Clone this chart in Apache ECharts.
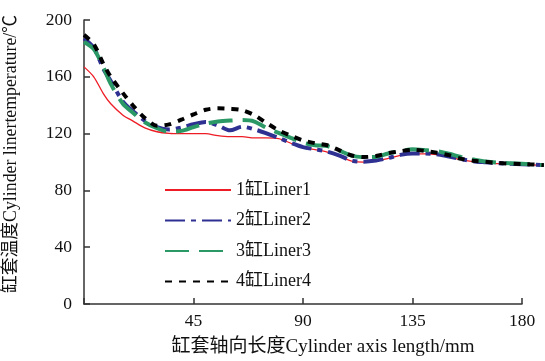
<!DOCTYPE html>
<html>
<head>
<meta charset="utf-8">
<script src="https://cdn.jsdelivr.net/npm/echarts@6/dist/echarts.min.js"></script>
<style>html,body{margin:0;padding:0;background:#fff}#c{width:545px;height:361px}</style>
</head>
<body>
<div id="c"></div>
<script>
const xPositions = [0, 4, 8, 11, 16, 20, 25, 30, 35, 40, 45, 50, 55, 60, 65, 70, 75, 80, 85, 90, 95, 100, 105, 110, 115, 120, 125, 130, 135, 140, 145, 150, 155, 160, 165, 170, 180, 189];
const liner1 = [167, 160, 148, 141, 133, 129, 124, 121.3, 120.2, 120, 120, 120, 118.5, 117.8, 117.8, 117, 117, 116.5, 113.2, 110.2, 108.7, 107, 104.2, 100.7, 99.9, 100.7, 102.5, 104.7, 105.7, 105.7, 105.2, 103.5, 101.7, 100.3, 99.5, 98.8, 98.2, 97.6];
const liner2 = [187, 180.5, 165.5, 157, 142.5, 136, 129, 124.5, 122.8, 124.3, 126.6, 128.2, 125.8, 122.3, 124.8, 123, 120.2, 117, 113.5, 110.5, 109, 107.3, 104.5, 101, 100.2, 101, 102.8, 105, 106, 106, 105.5, 103.8, 102, 100.6, 99.8, 99.1, 98.5, 97.8];
const liner3 = [184.5, 179.5, 166.5, 155, 141, 134.8, 128, 123.8, 121.3, 121.9, 124.6, 127, 128.5, 129.2, 129.5, 128.5, 124, 120.5, 117, 113.6, 111.8, 111.2, 108, 104.5, 103.4, 103.6, 106, 107.6, 108.9, 108.4, 107.6, 105.8, 103.5, 101.8, 100.4, 99.6, 98.7, 97.8];
const liner4 = [189.5, 183, 169, 160, 148.5, 140, 131, 125.5, 126.5, 129.8, 133.5, 136.8, 137.8, 137.5, 136.5, 133, 127.5, 122.3, 118.5, 115.2, 113.2, 111.8, 108.2, 104.6, 103.5, 104.2, 106.2, 107.6, 108.5, 107.8, 106.5, 104.8, 102.2, 100.9, 100.2, 99.3, 98.6, 97.8];
const seriesNames = ['1缸Liner1', '2缸Liner2', '3缸Liner3', '4缸Liner4'];
const xTicks = [45, 90, 135, 180];
const yTicks = [0, 40, 80, 120, 160, 200];

const FONT = '"Liberation Serif", "Noto Sans CJK SC", serif';
const pair = arr => xPositions.map((x, i) => [x, arr[i]]);

const styles = [
  {color: '#ee1c25', width: 1.3, type: 'solid'},
  {color: '#2e3192', width: 4, type: [20, 6, 5, 6]},
  {color: '#2b9966', width: 4, type: [24, 10]},
  {color: '#000000', width: 4, type: [7, 7]}
];
const datas = [liner1, liner2, liner3, liner4];

// Axis frame: 0..180 over 438px; data grid shares the same scale but extends to the right edge
const L = 84, AXW = 438, XMAX = 180;
const DATAMAX = 189.5;
const dataRight = 545 - L - AXW * DATAMAX / XMAX;

const chart = echarts.init(document.getElementById('c'));
chart.setOption({
  animation: false,
  backgroundColor: '#fff',
  grid: [
    {left: L, width: AXW, top: 20, bottom: 57, containLabel: false, outerBoundsMode: 'none'},
    {left: L, right: dataRight, top: 20, bottom: 57, containLabel: false, outerBoundsMode: 'none'}
  ],
  legend: {
    orient: 'vertical', left: 164, top: 181, padding: 0,
    itemWidth: 66, itemHeight: 14, itemGap: 12.5,
    itemStyle: {opacity: 0},
    textStyle: {fontFamily: FONT, fontSize: 18, color: '#111'},
    data: seriesNames
  },
  xAxis: [{
    gridIndex: 0, type: 'value', min: 0, max: XMAX, interval: 45,
    name: '缸套轴向长度Cylinder axis length/mm', nameLocation: 'middle', nameGap: 34,
    nameTextStyle: {fontFamily: FONT, fontSize: 19, color: '#111', padding: [0, 0, 0, 40]},
    axisLine: {lineStyle: {color: '#333', width: 1.5}},
    axisTick: {inside: true, length: 6, lineStyle: {color: '#333', width: 1.5}},
    axisLabel: {fontFamily: FONT, fontSize: 17.5, color: '#111', margin: 9,
      formatter: v => xTicks.indexOf(v) >= 0 ? String(v) : ''},
    splitLine: {show: false}
  }, {
    gridIndex: 1, type: 'value', min: 0, max: DATAMAX, show: false
  }],
  yAxis: [{
    gridIndex: 0, type: 'value', min: 0, max: 200, interval: 40,
    name: '缸套温度Cylinder linertemperature/℃', nameLocation: 'middle', nameGap: 64, nameRotate: 90,
    nameTextStyle: {fontFamily: FONT, fontSize: 17.8, color: '#111', padding: [0, 0, 0, 16]},
    axisLine: {show: true, lineStyle: {color: '#333', width: 1.5}},
    axisTick: {show: true, inside: true, length: 6, lineStyle: {color: '#333', width: 1.5}},
    axisLabel: {fontFamily: FONT, fontSize: 17.5, color: '#111', margin: 12,
      formatter: v => yTicks.indexOf(v) >= 0 ? String(v) : ''},
    splitLine: {show: false}
  }, {
    gridIndex: 1, type: 'value', min: 0, max: 200, show: false
  }],
  series: datas.map((d, i) => ({
    name: seriesNames[i], type: 'line', data: pair(d), smooth: 0.3,
    xAxisIndex: 1, yAxisIndex: 1,
    symbol: 'none', z: 2 + i,
    itemStyle: {color: styles[i].color},
    lineStyle: {color: styles[i].color, width: styles[i].width, type: styles[i].type}
  }))
});
</script>
</body>
</html>
